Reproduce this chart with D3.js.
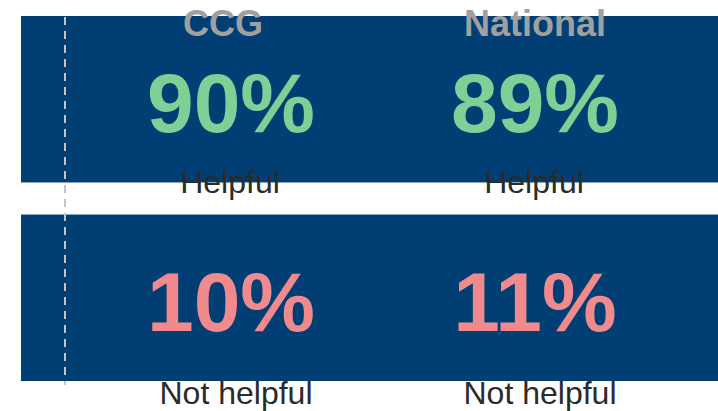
<!DOCTYPE html>
<html>
<head>
<meta charset="utf-8">
<script src="https://cdn.jsdelivr.net/npm/d3@7"></script>
<style>
  html, body { margin: 0; padding: 0; background: #fff; }
  svg { display: block; font-family: "Liberation Sans", Arial, Helvetica, sans-serif; }
</style>
</head>
<body>
<svg id="chart" width="718" height="411"></svg>
<script>
const groups = ["CCG", "National"];
const categories = ["Helpful", "Not helpful"];
const ccgValues = [90, 10];
const nationalValues = [89, 11];

const rows = categories.map((c, i) => ({
  category: c,
  values: [ {group: groups[0], value: ccgValues[i]}, {group: groups[1], value: nationalValues[i]} ]
}));

const W = 718, H = 411;
const svg = d3.select("#chart");

const y = d3.scaleBand().domain(categories).range([16, 381]).paddingInner(0.1616).paddingOuter(0);
const x = d3.scalePoint().domain(groups).range([231, 535]);
const headerX = d3.scalePoint().domain(groups).range([223, 535]);
const labelY = d3.scalePoint().domain(categories).range([193, 404]);
const labelShift = d3.scaleOrdinal().domain(categories).range([-1, 5]);

const bg = "#013e73";
const valueColor = {"Helpful": "#7fcf96", "Not helpful": "#f08a8c"};

// bars
svg.selectAll("rect.bar").data(rows).join("rect")
  .attr("class", "bar")
  .attr("x", 21).attr("width", W - 21)
  .attr("y", d => y(d.category))
  .attr("height", y.bandwidth())
  .attr("fill", bg);

// dashed reference line
svg.append("line")
  .attr("x1", 65).attr("x2", 65)
  .attr("y1", 17).attr("y2", 385)
  .attr("stroke", "#c4c4c4").attr("stroke-width", 2)
  .attr("stroke-dasharray", "8,6");

// headers
svg.selectAll("text.header").data(groups).join("text")
  .attr("class", "header")
  .attr("x", d => headerX(d)).attr("y", 36)
  .attr("text-anchor", "middle")
  .attr("font-size", 36).attr("font-weight", "bold")
  .attr("fill", "#a0a0a0")
  .text(d => d);

// values
const rowG = svg.selectAll("g.row").data(rows).join("g").attr("class", "row");
rowG.selectAll("text.value").data(d => d.values.map(v => ({...v, category: d.category}))).join("text")
  .attr("class", "value")
  .attr("x", d => x(d.group))
  .attr("y", d => y(d.category) + 116)
  .attr("text-anchor", "middle")
  .attr("font-size", 84).attr("font-weight", "bold")
  .attr("fill", d => valueColor[d.category])
  .text(d => d.value + "%");

rowG.selectAll("text.label").data(d => groups.map(g => ({group: g, category: d.category}))).join("text")
  .attr("class", "label")
  .attr("x", d => x(d.group) + labelShift(d.category))
  .attr("y", d => labelY(d.category))
  .attr("text-anchor", "middle")
  .attr("font-size", 32)
  .attr("fill", "#2b2b2b")
  .text(d => d.category);
</script>
</body>
</html>
